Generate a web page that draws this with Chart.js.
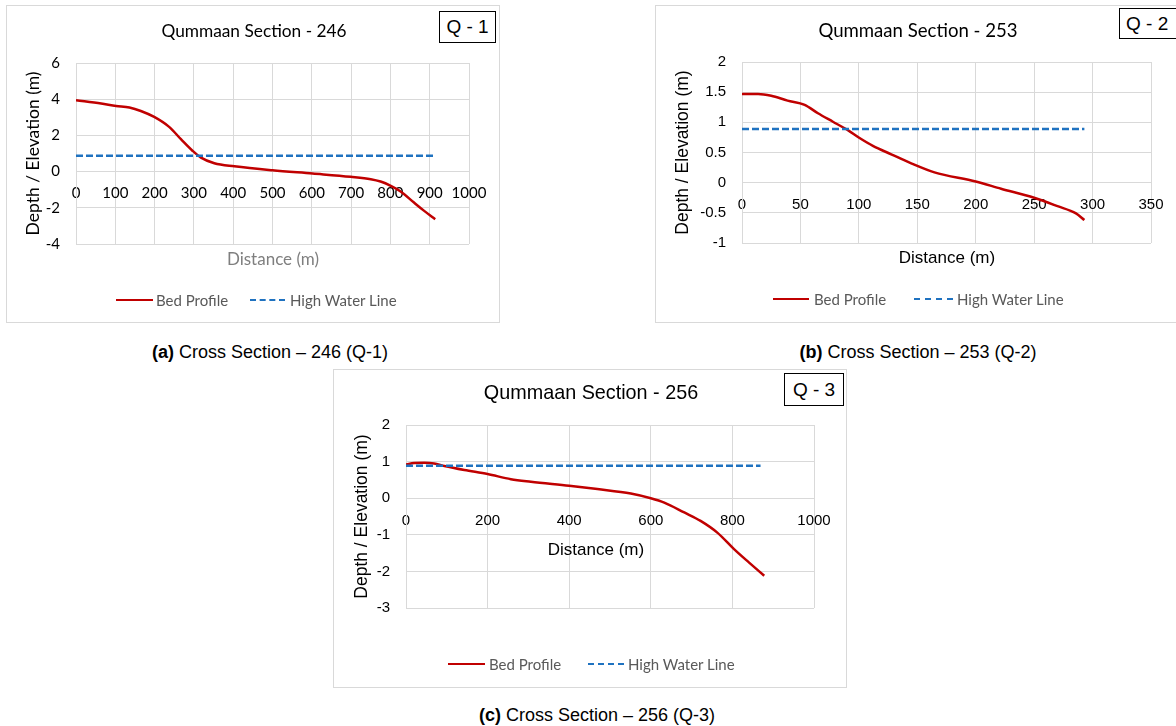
<!DOCTYPE html>
<html>
<head>
<meta charset="utf-8">
<script src="https://cdn.jsdelivr.net/npm/chart.js@4.4.1/dist/chart.umd.min.js"></script>
<style>
  html, body { margin: 0; padding: 0; background: #ffffff; }
  body { width: 1176px; height: 726px; position: relative; overflow: hidden; }
  .panel { position: absolute; border: 1px solid #d9d9d9; box-sizing: border-box; background: #fff; }
  .panel canvas { position: absolute; left: 0; top: 0; }
  .abs { position: absolute; white-space: nowrap; line-height: 1; }
  .title { transform: translate(-50%, -50%); color: #000; }
  .qbox { position: absolute; border: 1.5px solid #000; box-sizing: border-box; display: flex;
          align-items: center; justify-content: center; font-family: "Liberation Sans", Arial, sans-serif;
          font-size: 19px; color: #000; background: #fff; }
  .xtitle { transform: translate(-50%, -50%); }
  .leg-line { position: absolute; height: 0; }
  .leg-text { transform: translateY(-50%); color: #595959; font-family: Lato, sans-serif; font-size: 15px; }
  .caption { position: absolute; transform: translate(-50%, -50%); font-family: "Liberation Sans", Arial, sans-serif;
             font-size: 18px; color: #000; white-space: nowrap; }
</style>
</head>
<body>
<script>
// Qummaan cross sections: distance along the section (m) against bed level (m)

// Section 246 (Q-1)
const q1Distance = [0, 64, 102, 136, 165, 199, 237, 267, 297, 318, 352, 403, 500, 602, 699, 750, 775, 801, 826, 860, 886, 914];
const q1Bed      = [3.94, 3.76, 3.63, 3.54, 3.35, 3.02, 2.47, 1.79, 1.14, 0.77, 0.46, 0.29, 0.07, -0.11, -0.29, -0.42, -0.55, -0.79, -1.10, -1.71, -2.17, -2.63];
const q1HighWaterX = [0, 914];
const q1HighWater  = [0.88, 0.88];

// Section 253 (Q-2)
const q2Distance = [0, 13.7, 25, 39, 53.6, 65, 77.8, 90.6, 100.6, 112, 127.7, 144.8, 164.7, 200, 221.7, 250, 270, 285.8, 293];
const q2Bed      = [1.47, 1.47, 1.44, 1.36, 1.29, 1.15, 1.01, 0.87, 0.74, 0.61, 0.47, 0.32, 0.17, 0.02, -0.10, -0.25, -0.39, -0.51, -0.62];
const q2HighWaterX = [0, 293];
const q2HighWater  = [0.89, 0.89];

// Section 256 (Q-3)
const q3Distance = [0, 20, 45, 69, 94, 143, 200, 257, 306, 400, 469, 551, 600, 633, 682, 722, 763, 804, 841, 878];
const q3Bed      = [0.92, 0.96, 0.97, 0.95, 0.88, 0.77, 0.66, 0.52, 0.45, 0.34, 0.25, 0.13, 0.0, -0.12, -0.39, -0.62, -0.94, -1.39, -1.76, -2.12];
const q3HighWaterX = [0, 869];
const q3HighWater  = [0.89, 0.89];

// Axis ranges and tick spacing
const q1XTicks = { min: 0, max: 1000, step: 100 };
const q1YTicks = { min: -4, max: 6, step: 2 };
const q2XTicks = { min: 0, max: 350, step: 50 };
const q2YTicks = { min: -1, max: 2, step: 0.5 };
const q3XTicks = { min: 0, max: 1000, step: 200 };
const q3YTicks = { min: -3, max: 2, step: 1 };

const BED_COLOR = '#c00000';
const HWL_COLOR = '#1f72c0';
const GRID_COLOR = '#d9d9d9';
const CALIBRI = 'Lato, "Noto Sans", sans-serif';
const ARIAL = '"Liberation Sans", Arial, sans-serif';

function pairs(xs, ys) { return xs.map((x, i) => ({ x: x, y: ys[i] })); }
const plainNumber = (v) => String(Math.round(v * 100) / 100);

function addText(parent, cls, text, x, y, style) {
  const d = document.createElement('div');
  d.className = 'abs ' + cls;
  d.textContent = text;
  d.style.left = x + 'px';
  d.style.top = y + 'px';
  Object.assign(d.style, style || {});
  parent.appendChild(d);
  return d;
}

function buildPanel(p) {
  const panel = document.createElement('div');
  panel.className = 'panel';
  Object.assign(panel.style, { left: p.box[0] + 'px', top: p.box[1] + 'px', width: p.box[2] + 'px', height: p.box[3] + 'px' });
  document.body.appendChild(panel);

  const canvas = document.createElement('canvas');
  canvas.width = p.box[2]; canvas.height = p.box[3];
  canvas.style.width = p.box[2] + 'px'; canvas.style.height = p.box[3] + 'px';
  panel.appendChild(canvas);

  // chart title
  addText(panel, 'title', p.title, p.titlePos[0], p.titlePos[1], { fontFamily: p.titleFont, fontSize: p.titleSize + 'px' });

  // section tag
  const q = document.createElement('div');
  q.className = 'qbox';
  q.textContent = p.tag;
  Object.assign(q.style, { left: p.tagBox[0] + 'px', top: p.tagBox[1] + 'px', width: p.tagBox[2] + 'px', height: p.tagBox[3] + 'px' });
  if (p.tagAlignLeft) { q.style.justifyContent = 'flex-start'; q.style.paddingLeft = p.tagAlignLeft + 'px'; }
  panel.appendChild(q);

  // horizontal axis title
  addText(panel, 'xtitle', 'Distance (m)', p.xTitlePos[0], p.xTitlePos[1], { fontFamily: p.axisFont, fontSize: '17px', color: p.xTitleColor });

  // legend
  const ly = p.legendY;
  const red = document.createElement('div');
  red.className = 'leg-line';
  Object.assign(red.style, { left: p.legend[0] + 'px', top: (ly - 1.25) + 'px', width: (p.legend[1] - p.legend[0]) + 'px', borderTop: '2.5px solid ' + BED_COLOR });
  panel.appendChild(red);
  addText(panel, 'leg-text', 'Bed Profile', p.legend[2], ly);
  const blue = document.createElement('div');
  blue.className = 'leg-line';
  Object.assign(blue.style, { left: p.legend[3] + 'px', top: (ly - 1.25) + 'px', width: (p.legend[4] - p.legend[3]) + 'px', borderTop: '2.5px dashed ' + HWL_COLOR });
  panel.appendChild(blue);
  addText(panel, 'leg-text', 'High Water Line', p.legend[5], ly);

  new Chart(canvas, {
    type: 'scatter',
    data: {
      datasets: [
        { label: 'Bed Profile', data: pairs(p.bedX, p.bedY), showLine: true, borderColor: BED_COLOR, backgroundColor: BED_COLOR,
          borderWidth: 2.5, pointRadius: 0, cubicInterpolationMode: 'monotone', order: 2 },
        { label: 'High Water Line', data: pairs(p.hwlX, p.hwlY), showLine: true, borderColor: HWL_COLOR, backgroundColor: HWL_COLOR,
          borderWidth: 2.5, borderDash: [7, 3], pointRadius: 0, order: 1 }
      ]
    },
    options: {
      responsive: false,
      animation: false,
      events: [],
      layout: { padding: { left: 0, top: p.pad[0], right: p.pad[1], bottom: p.pad[2] } },
      plugins: { legend: { display: false }, title: { display: false }, tooltip: { enabled: false } },
      scales: {
        x: {
          type: 'linear',
          position: { y: 0 },
          min: p.xTicks.min, max: p.xTicks.max,
          grid: { color: GRID_COLOR, drawTicks: false, lineWidth: 1 },
          border: { display: true, color: GRID_COLOR },
          ticks: { stepSize: p.xTicks.step, padding: p.xTickPad, maxRotation: 0, minRotation: 0, autoSkip: false,
                   color: p.tickColor, font: { family: p.tickFont, size: 15 }, callback: plainNumber }
        },
        y: {
          type: 'linear',
          min: p.yTicks.min, max: p.yTicks.max,
          grid: { color: GRID_COLOR, drawTicks: false, lineWidth: 1 },
          border: { display: true, color: GRID_COLOR },
          ticks: { stepSize: p.yTicks.step, padding: 16, color: p.tickColor, font: { family: p.tickFont, size: 15 }, callback: plainNumber },
          title: { display: true, text: 'Depth / Elevation (m)', color: '#000', font: { family: p.axisFont, size: p.yTitleSize },
                   padding: { top: p.yTitlePad, bottom: 0 } },
          afterFit: (scale) => { scale.width = p.yAxisWidth; }
        }
      }
    }
  });
}

// (a) Section 246
buildPanel({
  box: [6, 5, 494, 318],
  title: 'Qummaan Section - 246', titleFont: CALIBRI, titleSize: 17.3, titlePos: [247, 25],
  tag: 'Q - 1', tagBox: [432, 5, 57, 32],
  xTitlePos: [266, 252], xTitleColor: '#7f7f7f',
  axisFont: CALIBRI, tickFont: CALIBRI, tickColor: '#000',
  legendY: 294, legend: [109, 146, 149, 243, 278, 283],
  bedX: q1Distance, bedY: q1Bed, hwlX: q1HighWaterX, hwlY: q1HighWater,
  xTicks: q1XTicks, yTicks: q1YTicks, xTickPad: 13,
  pad: [57, 32, 80], yAxisWidth: 69, yTitlePad: 16, yTitleSize: 17.5
});

// (b) Section 253
buildPanel({
  box: [655, 5, 525, 318],
  title: 'Qummaan Section - 253', titleFont: CALIBRI, titleSize: 18.6, titlePos: [262, 24],
  tag: 'Q - 2', tagBox: [463, 2, 70, 31], tagAlignLeft: 6,
  xTitlePos: [291, 251], xTitleColor: '#000',
  axisFont: ARIAL, tickFont: ARIAL, tickColor: '#000',
  legendY: 293, legend: [117, 153, 158, 258, 297, 301],
  bedX: q2Distance, bedY: q2Bed, hwlX: q2HighWaterX, hwlY: q2HighWater,
  xTicks: q2XTicks, yTicks: q2YTicks, xTickPad: 13,
  pad: [56, 30, 81], yAxisWidth: 86, yTitlePad: 17, yTitleSize: 17.5
});

// (c) Section 256
buildPanel({
  box: [333, 369, 514, 319],
  title: 'Qummaan Section - 256', titleFont: ARIAL, titleSize: 19.8, titlePos: [257, 23],
  tag: 'Q - 3', tagBox: [450, 3, 60, 33],
  xTitlePos: [262, 179], xTitleColor: '#000',
  axisFont: ARIAL, tickFont: ARIAL, tickColor: '#000',
  legendY: 294, legend: [114, 151, 155, 254, 290, 294],
  bedX: q3Distance, bedY: q3Bed, hwlX: q3HighWaterX, hwlY: q3HighWater,
  xTicks: q3XTicks, yTicks: q3YTicks, xTickPad: 14,
  pad: [55, 34, 81], yAxisWidth: 72, yTitlePad: 18, yTitleSize: 17.5
});

// figure captions
function caption(label, text, x, y) {
  const c = document.createElement('div');
  c.className = 'caption';
  c.style.left = x + 'px'; c.style.top = y + 'px';
  const b = document.createElement('b');
  b.textContent = label;
  c.appendChild(b);
  c.appendChild(document.createTextNode(' ' + text));
  document.body.appendChild(c);
}
caption('(a)', 'Cross Section \u2013 246 (Q-1)', 270, 352);
caption('(b)', 'Cross Section \u2013 253 (Q-2)', 918, 352);
caption('(c)', 'Cross Section \u2013 256 (Q-3)', 597, 715);
</script>
</body>
</html>
